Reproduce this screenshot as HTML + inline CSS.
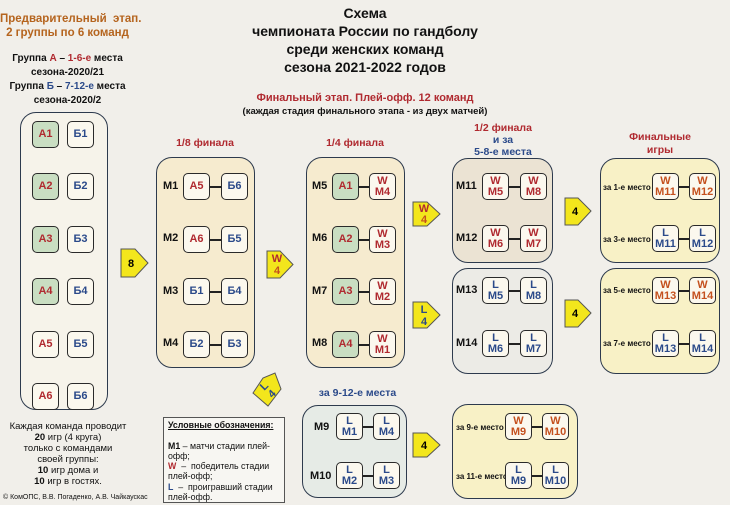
<!DOCTYPE html>
<html><head><meta charset="utf-8">
<style>
body{margin:0;width:730px;height:505px;background:#f1efea;position:relative;overflow:hidden;font-family:"Liberation Sans",sans-serif;font-weight:bold;color:#111}
.a{position:absolute}
.t{position:absolute;text-align:center;white-space:nowrap}
.box{position:absolute;border:1.5px solid #2d3a4d;border-radius:16px;box-sizing:border-box}
.c{position:absolute;width:27px;height:27px;box-sizing:border-box;border:1.5px solid #2a2a2a;border-radius:5px;background:#fbf8ee;font-size:11px;text-align:center;display:flex;flex-direction:column;justify-content:center;line-height:11px}
.g{background:#c9dec2}
.r{color:#b02a30}.b{color:#2b4a8a}.o{color:#c4501e}
.ln{position:absolute;height:1.5px;background:#222}
.m{position:absolute;font-size:11px}
.s{position:absolute;font-size:8px;white-space:nowrap}
</style></head><body>

<div class="t" style="left:225px;top:4px;width:280px;font-size:14px;line-height:18px">Схема<br>чемпионата России по гандболу<br>среди женских команд<br>сезона 2021-2022 годов</div>
<div class="t" style="left:0;top:12px;width:135px;font-size:11.5px;line-height:14px;color:#b5641e">Предварительный&nbsp; этап.<br>2 группы по 6 команд</div>
<div class="t" style="left:0;top:52px;width:135px;font-size:10px;line-height:14px">Группа <span class="r">А</span> – <span class="r">1-6-е</span> места<br>сезона-2020/21<br>Группа <span class="b">Б</span> – <span class="b">7-12-е</span> места<br>сезона-2020/2</div>
<div class="t" style="left:150px;top:92px;width:430px;font-size:11px;color:#b02a30">Финальный этап. Плей-офф. 12 команд</div>
<div class="t" style="left:150px;top:106px;width:430px;font-size:9.5px">(каждая стадия финального этапа - из двух матчей)</div>

<div class="t r" style="left:155px;top:137px;width:100px;font-size:10.5px">1/8 финала</div>
<div class="t r" style="left:305px;top:137px;width:100px;font-size:10.5px">1/4 финала</div>
<div class="t" style="left:452px;top:122px;width:102px;font-size:10.5px;line-height:12px"><span class="r">1/2 финала</span><br><span class="b">и за<br>5-8-е места</span></div>
<div class="t r" style="left:600px;top:131px;width:120px;font-size:10.5px;line-height:13px">Финальные<br>игры</div>
<div class="t b" style="left:305px;top:387px;width:105px;font-size:10.5px">за 9-12-е места</div>

<div class="box" style="left:20px;top:112px;width:88px;height:298px;background:#f6f3ea"></div>
<div class="c g r" style="left:32px;top:121px">А1</div><div class="c b" style="left:67px;top:121px">Б1</div>
<div class="c g r" style="left:32px;top:173px">А2</div><div class="c b" style="left:67px;top:173px">Б2</div>
<div class="c g r" style="left:32px;top:226px">А3</div><div class="c b" style="left:67px;top:226px">Б3</div>
<div class="c g r" style="left:32px;top:278px">А4</div><div class="c b" style="left:67px;top:278px">Б4</div>
<div class="c r" style="left:32px;top:331px">А5</div><div class="c b" style="left:67px;top:331px">Б5</div>
<div class="c r" style="left:32px;top:383px">А6</div><div class="c b" style="left:67px;top:383px">Б6</div>

<div class="t" style="left:0;top:421px;width:136px;font-size:9.5px;font-weight:normal;line-height:11px">Каждая команда проводит<br><b>20</b> игр (4 круга)<br>только с командами<br>своей группы:<br><b>10</b> игр дома и<br><b>10</b> игр в гостях.</div>
<div class="s" style="left:3px;top:494px;font-weight:normal;font-size:7px">© КомОПС, В.В. Погаденко, А.В. Чайкаускас</div>

<div class="box" style="left:156px;top:157px;width:99px;height:211px;background:#f6ebcf"></div>
<div class="m" style="left:163px;top:180px">М1</div><div class="c r" style="left:183px;top:173px">А5</div><div class="ln" style="left:210px;top:186px;width:11px"></div><div class="c b" style="left:221px;top:173px">Б6</div>
<div class="m" style="left:163px;top:232px">М2</div><div class="c r" style="left:183px;top:226px">А6</div><div class="ln" style="left:210px;top:239px;width:11px"></div><div class="c b" style="left:221px;top:226px">Б5</div>
<div class="m" style="left:163px;top:285px">М3</div><div class="c b" style="left:183px;top:278px">Б1</div><div class="ln" style="left:210px;top:291px;width:11px"></div><div class="c b" style="left:221px;top:278px">Б4</div>
<div class="m" style="left:163px;top:337px">М4</div><div class="c b" style="left:183px;top:331px">Б2</div><div class="ln" style="left:210px;top:344px;width:11px"></div><div class="c b" style="left:221px;top:331px">Б3</div>

<div class="box" style="left:306px;top:157px;width:99px;height:211px;background:#f6ebcf"></div>
<div class="m" style="left:312px;top:180px">М5</div><div class="c g r" style="left:332px;top:173px">А1</div><div class="ln" style="left:358px;top:186px;width:11px"></div><div class="c r" style="left:369px;top:173px">W<br>М4</div>
<div class="m" style="left:312px;top:232px">М6</div><div class="c g r" style="left:332px;top:226px">А2</div><div class="ln" style="left:358px;top:239px;width:11px"></div><div class="c r" style="left:369px;top:226px">W<br>М3</div>
<div class="m" style="left:312px;top:285px">М7</div><div class="c g r" style="left:332px;top:278px">А3</div><div class="ln" style="left:358px;top:291px;width:11px"></div><div class="c r" style="left:369px;top:278px">W<br>М2</div>
<div class="m" style="left:312px;top:337px">М8</div><div class="c g r" style="left:332px;top:331px">А4</div><div class="ln" style="left:358px;top:344px;width:11px"></div><div class="c r" style="left:369px;top:331px">W<br>М1</div>

<div class="box" style="left:452px;top:158px;width:101px;height:105px;background:#ebe3d3"></div>
<div class="m" style="left:456px;top:180px">М11</div><div class="c r" style="left:482px;top:173px">W<br>М5</div><div class="ln" style="left:509px;top:186px;width:11px"></div><div class="c r" style="left:520px;top:173px">W<br>М8</div>
<div class="m" style="left:456px;top:232px">М12</div><div class="c r" style="left:482px;top:225px">W<br>М6</div><div class="ln" style="left:509px;top:238px;width:11px"></div><div class="c r" style="left:520px;top:225px">W<br>М7</div>
<div class="box" style="left:452px;top:268px;width:101px;height:106px;background:#ecebe6"></div>
<div class="m" style="left:456px;top:284px">М13</div><div class="c b" style="left:482px;top:277px">L<br>М5</div><div class="ln" style="left:509px;top:290px;width:11px"></div><div class="c b" style="left:520px;top:277px">L<br>М8</div>
<div class="m" style="left:456px;top:337px">М14</div><div class="c b" style="left:482px;top:330px">L<br>М6</div><div class="ln" style="left:509px;top:343px;width:11px"></div><div class="c b" style="left:520px;top:330px">L<br>М7</div>

<div class="box" style="left:600px;top:158px;width:120px;height:105px;background:#f8f1c6"></div>
<div class="s" style="left:603px;top:183px">за 1-е место</div><div class="c o" style="left:652px;top:173px">W<br>М11</div><div class="ln" style="left:679px;top:186px;width:10px"></div><div class="c o" style="left:689px;top:173px">W<br>М12</div>
<div class="s" style="left:603px;top:235px">за 3-е место</div><div class="c b" style="left:652px;top:225px">L<br>М11</div><div class="ln" style="left:679px;top:238px;width:10px"></div><div class="c b" style="left:689px;top:225px">L<br>М12</div>
<div class="box" style="left:600px;top:268px;width:120px;height:106px;background:#f8f1c6"></div>
<div class="s" style="left:603px;top:286px">за 5-е место</div><div class="c o" style="left:652px;top:277px">W<br>М13</div><div class="ln" style="left:679px;top:290px;width:10px"></div><div class="c o" style="left:689px;top:277px">W<br>М14</div>
<div class="s" style="left:603px;top:339px">за 7-е место</div><div class="c b" style="left:652px;top:330px">L<br>М13</div><div class="ln" style="left:679px;top:343px;width:10px"></div><div class="c b" style="left:689px;top:330px">L<br>М14</div>

<div class="box" style="left:302px;top:405px;width:105px;height:93px;background:#e6ebe6"></div>
<div class="m" style="left:314px;top:421px">М9</div><div class="c b" style="left:336px;top:413px">L<br>М1</div><div class="ln" style="left:363px;top:426px;width:10px"></div><div class="c b" style="left:373px;top:413px">L<br>М4</div>
<div class="m" style="left:310px;top:470px">М10</div><div class="c b" style="left:336px;top:462px">L<br>М2</div><div class="ln" style="left:363px;top:475px;width:10px"></div><div class="c b" style="left:373px;top:462px">L<br>М3</div>
<div class="box" style="left:452px;top:404px;width:126px;height:95px;background:#f8f1c6"></div>
<div class="s" style="left:456px;top:423px">за 9-е место</div><div class="c o" style="left:505px;top:413px">W<br>М9</div><div class="ln" style="left:532px;top:426px;width:10px"></div><div class="c o" style="left:542px;top:413px">W<br>М10</div>
<div class="s" style="left:456px;top:472px">за 11-е место</div><div class="c b" style="left:505px;top:462px">L<br>М9</div><div class="ln" style="left:532px;top:475px;width:10px"></div><div class="c b" style="left:542px;top:462px">L<br>М10</div>

<div class="a" style="left:163px;top:417px;width:122px;height:86px;border:1px solid #555;background:#f7f6f2;box-sizing:border-box;font-size:8.8px;font-weight:normal;line-height:10.3px;padding:2px 4px;overflow:hidden">
<b style="text-decoration:underline">Условные обозначения:</b><br><br>
<b>М1</b> – матчи стадии плей-офф;<br><b class="r">W</b>&nbsp; – &nbsp;победитель стадии плей-офф;<br><b class="b">L</b>&nbsp; – &nbsp;проигравший стадии плей-офф.</div>

<svg class="a" style="left:0;top:0" width="730" height="505">
<g fill="#f3e61c" stroke="#555" stroke-width="1">
<polygon points="121,249 135,249 148,263 135,277 121,277"/>
<polygon points="267,251 280,251 293,264.5 280,278 267,278"/>
<polygon points="413,202 427,202 440,214 427,226 413,226"/>
<polygon points="413,302 427,302 440,315 427,328 413,328"/>
<polygon points="565,198 578,198 591,211 578,225 565,225"/>
<polygon points="565,300 578,300 591,313 578,327 565,327"/>
<polygon points="413,433 427,433 440,445 427,457 413,457"/>
<polygon points="253,393 263,378 275,373 281,389 268,406" />
</g>
<g font-family="Liberation Sans" font-weight="bold" font-size="11" text-anchor="middle">
<text x="131" y="267">8</text>
<text x="277" y="262" fill="#b02a30">W</text><text x="277" y="274" fill="#c4501e">4</text>
<text x="424" y="212" fill="#b02a30">W</text><text x="424" y="223" fill="#c4501e">4</text>
<text x="424" y="313" fill="#2b4a8a">L</text><text x="424" y="325" fill="#2b4a8a">4</text>
<text x="575" y="215">4</text><text x="575" y="317">4</text>
<text x="424" y="449">4</text>
<g transform="rotate(-45 268 390)"><text x="268" y="388" fill="#2b4a8a">L</text><text x="268" y="399" fill="#2b4a8a">4</text></g>
</g>
</svg>
</body></html>
